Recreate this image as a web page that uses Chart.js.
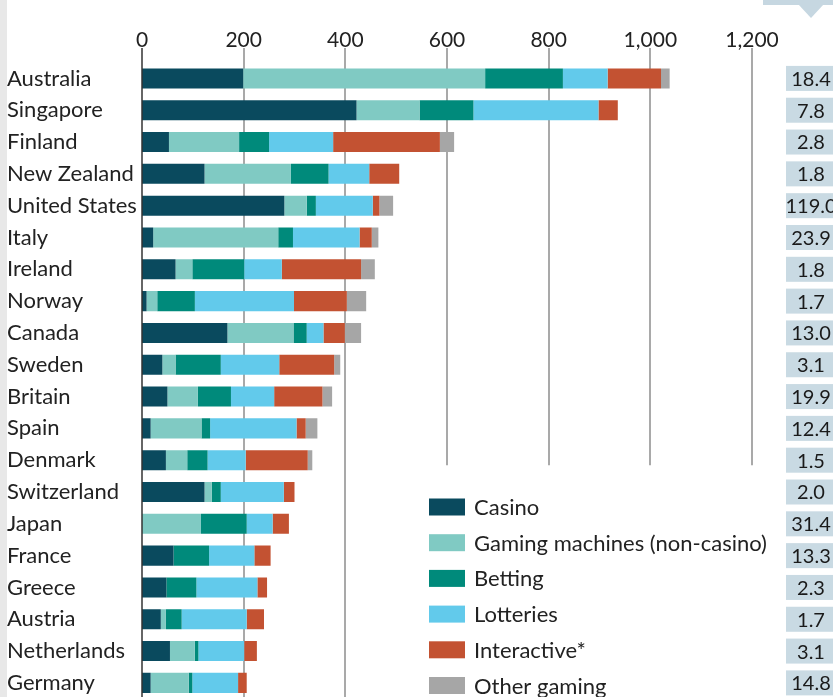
<!DOCTYPE html>
<html>
<head>
<meta charset="utf-8">
<script src="https://cdn.jsdelivr.net/npm/chart.js@4.4.1/dist/chart.umd.min.js"></script>
<style>
html, body { margin:0; padding:0; background:#fff; overflow:hidden; }
#wrap { position:relative; width:833px; height:712px; }
</style>
</head>
<body>
<div id="wrap"><canvas id="gamblingChart" width="833" height="712"></canvas></div>
<script>
var countries = ['Australia', 'Singapore', 'Finland', 'New Zealand', 'United States', 'Italy', 'Ireland', 'Norway', 'Canada', 'Sweden',
    'Britain', 'Spain', 'Denmark', 'Switzerland', 'Japan', 'France', 'Greece', 'Austria', 'Netherlands', 'Germany'];
var casino      = [199, 422, 53, 123, 280, 22, 66, 9, 168, 40, 50, 17, 47, 123, 0, 62, 48, 37, 55, 17];
var machines    = [476, 124, 138, 170, 44, 246, 33, 21, 130, 26, 60, 100, 42, 14, 116, 0, 0, 10, 49, 75];
var betting     = [153, 106, 59, 74, 18, 29, 102, 74, 26, 89, 65, 17, 40, 18, 90, 70, 59, 31, 7, 7];
var lotteries   = [88, 246, 126, 80, 112, 131, 74, 195, 33, 115, 85, 170, 75, 124, 51, 89, 120, 128, 90, 90];
var interactive = [105, 38, 210, 59, 13, 24, 156, 104, 42, 108, 95, 18, 122, 21, 32, 32, 19, 34, 25, 17];
var other       = [17, 0, 28, 0, 27, 13, 27, 38, 32, 12, 19, 23, 9, 0, 0, 0, 0, 0, 0, 0];
var population  = ['18.4', '7.8', '2.8', '1.8', '119.0', '23.9', '1.8', '1.7', '13.0', '3.1',
    '19.9', '12.4', '1.5', '2.0', '31.4', '13.3', '2.3', '1.7', '3.1', '14.8'];
var xTicks = [0, 200, 400, 600, 800, 1000, 1200];

var fontFamily = 'Lato';

var extrasPlugin = {
    id: 'extras',
    beforeDraw: function(chart) {
        var ctx = chart.ctx;
        ctx.save();
        // grey strip on the left edge
        ctx.fillStyle = '#e8e8e8';
        ctx.fillRect(0, 0, 7, chart.height);
        // header tab top right
        ctx.fillStyle = '#c6d7e1';
        ctx.fillRect(763, 0, 80, 5);
        ctx.beginPath();
        ctx.moveTo(798, 4);
        ctx.lineTo(824, 4);
        ctx.lineTo(811, 18);
        ctx.closePath();
        ctx.fill();
        ctx.restore();
    },
    beforeDatasetsDraw: function(chart) {
        var x = chart.scales.x, y = chart.scales.y, ctx = chart.ctx;
        var cutY = y.getPixelForValue(12) + 5;
        ctx.save();
        ctx.lineWidth = 2;
        ctx.strokeStyle = '#a9a9a9';
        for (var i = 1; i < xTicks.length; i++) {
            var px = Math.round(x.getPixelForValue(xTicks[i]));
            var end = xTicks[i] >= 600 ? cutY : chart.height;
            ctx.beginPath();
            ctx.moveTo(px, 48);
            ctx.lineTo(px, end);
            ctx.stroke();
        }
        ctx.restore();
    },
    afterDatasetsDraw: function(chart) {
        var x = chart.scales.x, y = chart.scales.y, ctx = chart.ctx;
        ctx.save();
        // zero line
        ctx.strokeStyle = '#333333';
        ctx.lineWidth = 1.5;
        var x0 = x.getPixelForValue(0);
        ctx.beginPath();
        ctx.moveTo(x0, 48);
        ctx.lineTo(x0, chart.height);
        ctx.stroke();

        // population boxes on the right
        ctx.font = '20px ' + fontFamily;
        ctx.textAlign = 'center';
        ctx.textBaseline = 'middle';
        for (var i = 0; i < population.length; i++) {
            var cy = y.getPixelForValue(i);
            ctx.fillStyle = '#c9dae3';
            ctx.fillRect(786, cy - 12.5, 52, 25);
            ctx.fillStyle = '#1a1a1a';
            ctx.fillText(population[i], 811, cy + 1);
        }

        // legend
        ctx.font = '22px ' + fontFamily;
        ctx.textAlign = 'left';
        chart.data.datasets.forEach(function(ds, i) {
            var cy = 507 + i * 35.7;
            ctx.fillStyle = ds.backgroundColor;
            ctx.fillRect(429, cy - 8.5, 36, 17);
            ctx.fillStyle = '#222222';
            ctx.fillText(ds.label, 474, cy + 1);
        });
        ctx.restore();
    }
};

function makeSet(label, data, color) {
    return {
        label: label,
        data: data,
        backgroundColor: color,
        borderWidth: 0,
        categoryPercentage: 1,
        barPercentage: 0.63
    };
}

var gamblingChart = new Chart(document.getElementById('gamblingChart'), {
    type: 'bar',
    data: {
        labels: countries,
        datasets: [
            makeSet('Casino', casino, '#0a4a5e'),
            makeSet('Gaming machines (non-casino)', machines, '#80cac3'),
            makeSet('Betting', betting, '#008a7b'),
            makeSet('Lotteries', lotteries, '#62caeb'),
            makeSet('Interactive*', interactive, '#c35232'),
            makeSet('Other gaming', other, '#a6a6a6')
        ]
    },
    options: {
        indexAxis: 'y',
        responsive: false,
        animation: false,
        layout: { padding: { left: 7, right: 81, top: 0, bottom: 9.5 } },
        plugins: {
            legend: { display: false },
            tooltip: { enabled: false }
        },
        scales: {
            x: {
                position: 'top',
                stacked: true,
                min: 0,
                max: 1200,
                ticks: { stepSize: 200, color: '#222222', font: { family: fontFamily, size: 21 }, padding: 10 },
                grid: { display: false, drawTicks: false },
                border: { display: false },
                afterFit: function(scale) { scale.height = 62.5; }
            },
            y: {
                stacked: true,
                ticks: { crossAlign: 'far', color: '#222222', font: { family: fontFamily, size: 22 }, padding: 0, autoSkip: false },
                grid: { display: false, drawTicks: false },
                border: { display: false },
                afterFit: function(scale) { scale.width = 135; }
            }
        }
    },
    plugins: [extrasPlugin]
});
</script>
</body>
</html>
